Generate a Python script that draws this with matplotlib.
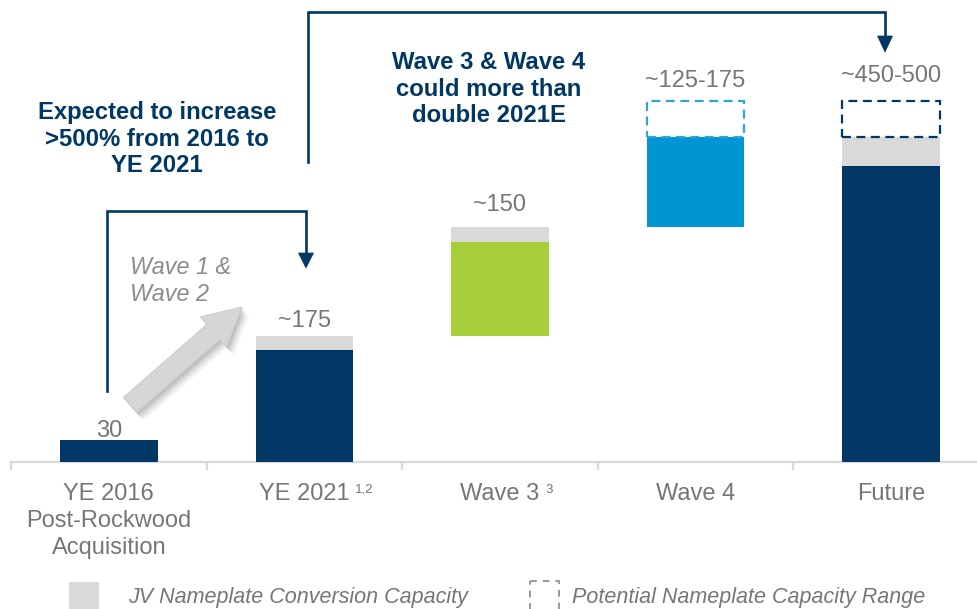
import matplotlib
matplotlib.use("Agg")
import matplotlib.pyplot as plt
from matplotlib.patches import Rectangle, Polygon, FancyArrow
from matplotlib.transforms import Affine2D
from matplotlib.lines import Line2D

plt.rcParams["font.family"] = ["Liberation Sans", "DejaVu Sans"]

# ---- data -------------------------------------------------------------
categories = ["YE 2016\nPost-Rockwood\nAcquisition", "YE 2021", "Wave 3", "Wave 4", "Future"]
superscripts = ["", "1,2", "3", "", ""]
value_labels = ["30", "~175", "~150", "~125-175", "~450-500"]

core_bottom = [0, 0, 175, 325, 0]        # where the coloured segment starts
core_height = [30, 155, 130, 125, 410]   # coloured segment
jv_height = [0, 20, 20, 0, 40]           # JV nameplate conversion capacity
range_height = [0, 0, 0, 50, 50]         # potential nameplate capacity range

# ---- style ------------------------------------------------------------
NAVY = "#003764"
GREEN = "#A6CE39"
BLUE = "#0095D3"
LIGHT = "#D9D9D9"
TXT = "#767676"
core_colors = [NAVY, NAVY, GREEN, BLUE, NAVY]
range_edges = [None, None, None, "#2FA3DA", NAVY]
label_gap_px = [-2, 4, 11, 9, 14]
sup_gap_px = [0, 5, 6, 0, 0]

W, H = 977, 609
fig = plt.figure(figsize=(W / 100, H / 100), dpi=100)
ax = fig.add_axes([0, 0, 1, 1])

# pixel transform (origin top-left) for annotations
PX = Affine2D().scale(1 / W, -1 / H).translate(0, 1) + fig.transFigure

PX_PER_UNIT = 0.722
BASE_Y = 462          # pixel row of the value axis zero
CAT_W = 195.6         # pixel width of one category
X0 = 11               # pixel column of left category edge
ax.set_xlim(-0.5 - X0 / CAT_W, -0.5 - X0 / CAT_W + W / CAT_W)
ax.set_ylim(-(H - BASE_Y) / PX_PER_UNIT, BASE_Y / PX_PER_UNIT)
ax.axis("off")

xs = list(range(len(categories)))
bw = 0.5

# coloured segments
ax.bar(xs, core_height, bottom=core_bottom, width=bw, color=core_colors, linewidth=0, zorder=2)
# JV capacity segments on top
jv_bottom = [b + h for b, h in zip(core_bottom, core_height)]
ax.bar(xs, jv_height, bottom=jv_bottom, width=bw, color=LIGHT, linewidth=0, zorder=2)
# dashed range boxes
rng_bottom = [b + h for b, h in zip(jv_bottom, jv_height)]
for x, b, h, ec in zip(xs, rng_bottom, range_height, range_edges):
    if h > 0:
        ax.add_patch(Rectangle((x - bw / 2, b), bw, h, fill=False, edgecolor=ec,
                               linewidth=1.6, linestyle=(0, (4, 2.5)), zorder=3))

# value labels
tops = [b + h for b, h in zip(rng_bottom, range_height)]
for x, t, lab, gap in zip(xs, tops, value_labels, label_gap_px):
    ax.annotate(lab, (x, t), xytext=(0, gap * 0.72), textcoords="offset points",
                ha="center", va="bottom", fontsize=17, color=TXT)

# category axis line and boundary ticks
xl = ax.get_xlim()
ax.add_line(Line2D([-0.5, xl[1]], [0, 0], color=LIGHT, linewidth=1.6, zorder=1))
for i in range(len(categories)):
    ax.add_line(Line2D([i - 0.5, i - 0.5], [0, -7 / PX_PER_UNIT], color=LIGHT,
                       linewidth=1.6, zorder=1))

# category labels with footnote marks
fig.canvas.draw()
renderer = fig.canvas.get_renderer()
for x, lab, sup, sg in zip(xs, categories, superscripts, sup_gap_px):
    t = ax.annotate(lab, (x, 0), xytext=(0, -14.8), textcoords="offset points",
                    ha="center", va="top", fontsize=17, color=TXT, linespacing=1.32)
    if sup:
        w = t.get_window_extent(renderer).width
        ax.annotate(sup, (x, 0), xytext=((w / 2 + sg) * 0.72, -15.5),
                    textcoords="offset points", ha="left", va="top",
                    fontsize=9.5, color=TXT)

# headline annotations
fig.text(157, 139, "Expected to increase\n>500% from 2016 to\nYE 2021", transform=PX,
         ha="center", va="center", fontsize=17.2, fontweight="bold", color=NAVY,
         linespacing=1.2)
fig.text(489, 89, "Wave 3 & Wave 4\ncould more than\ndouble 2021E", transform=PX,
         ha="center", va="center", fontsize=17.2, fontweight="bold", color=NAVY,
         linespacing=1.2)
fig.text(130, 281, "Wave 1 &\nWave 2", transform=PX, ha="left", va="center",
         fontsize=16.8, fontstyle="italic", color="#8C8C8C", linespacing=1.25)


def connector(points, head_len=15, head_w=15):
    xs_, ys_ = zip(*points)
    fig.add_artist(Line2D(xs_, ys_, transform=PX, color=NAVY, linewidth=1.9,
                          solid_joinstyle="miter"))
    tx, ty = points[-1]
    fig.add_artist(Polygon([(tx - head_w / 2, ty), (tx + head_w / 2, ty),
                            (tx, ty + head_len)], closed=True, transform=PX,
                           facecolor=NAVY, edgecolor=NAVY, linewidth=0.5))


connector([(107, 391), (107, 211), (306, 211), (306, 253)])
connector([(308, 162), (308, 12), (885, 12), (885, 36)], head_len=16)

# wave 1 & 2 growth arrow (with soft shadow)
arrow_kw = dict(width=20, head_width=40, head_length=38, length_includes_head=True,
                transform=PX)
for dx, dy, col, a in [(7, 8, "#C0C0C0", 0.2), (5, 6, "#B0B0B0", 0.25),
                       (3, 4, "#A0A0A0", 0.3), (1.5, 2, "#999999", 0.3)]:
    fig.add_artist(FancyArrow(130 + dx, 405 + dy, 112, -98, facecolor=col,
                              edgecolor="none", alpha=a, **arrow_kw))
fig.add_artist(FancyArrow(130, 405, 112, -98, facecolor="#D6D6D6",
                          edgecolor="#CDCDCD", linewidth=0.8, **arrow_kw))

# legend
fig.add_artist(Rectangle((69, 582), 30, 30, transform=PX, facecolor=LIGHT,
                         edgecolor="none"))
fig.text(128, 598, "JV Nameplate Conversion Capacity", transform=PX, ha="left",
         va="center", fontsize=15.5, fontstyle="italic", color=TXT)
fig.add_artist(Rectangle((530, 581), 29, 31, transform=PX, fill=False,
                         edgecolor="#9A9A9A", linewidth=1.4, linestyle=(0, (3.5, 3))))
fig.text(572, 598, "Potential Nameplate Capacity Range", transform=PX, ha="left",
         va="center", fontsize=15.5, fontstyle="italic", color=TXT)

fig.savefig("out.png", dpi=100)
